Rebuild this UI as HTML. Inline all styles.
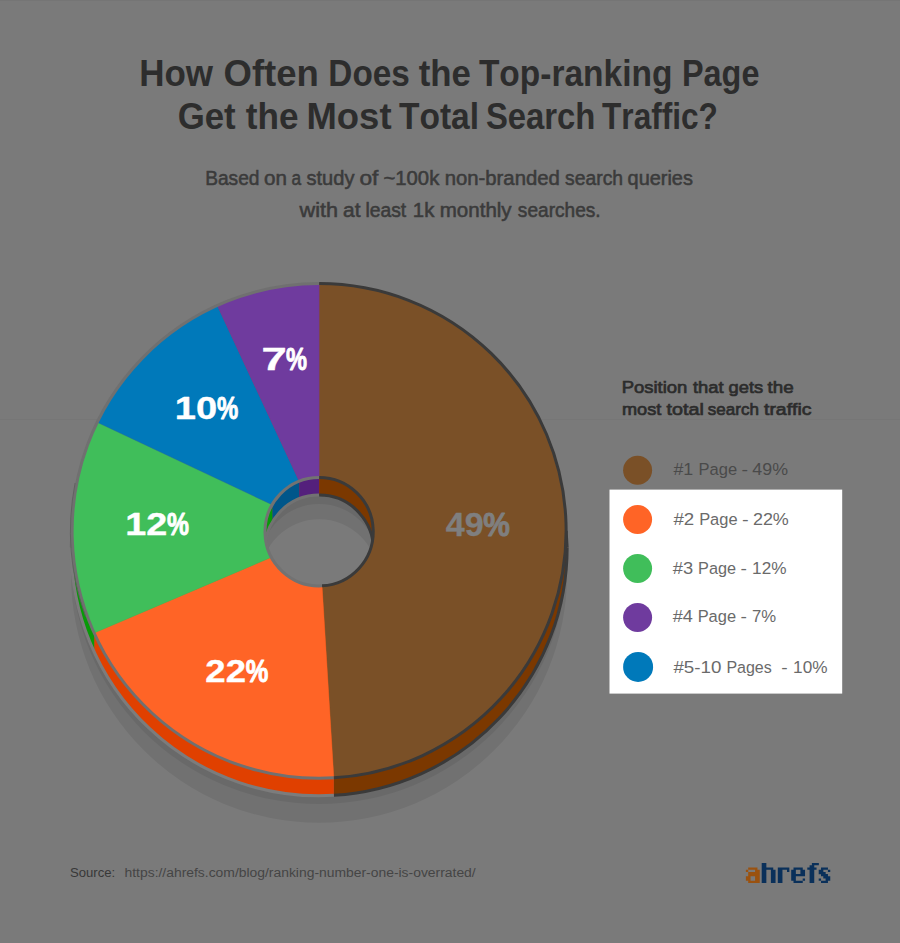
<!DOCTYPE html>
<html><head><meta charset="utf-8"><title>chart</title>
<style>
html,body{margin:0;padding:0;background:#7a7a7a;}
body{width:900px;height:943px;overflow:hidden;font-family:"Liberation Sans",sans-serif;}
svg{display:block}
text{font-family:"Liberation Sans",sans-serif;font-kerning:none;}
</style></head><body>
<svg width="900" height="943" viewBox="0 0 900 943">
<rect width="900" height="943" fill="#7a7a7a"/>
<rect y="0" width="900" height="1" fill="#757575"/>
<rect y="419" width="900" height="1" fill="#767676"/>

<path d="M71.00,574.70a248.0,248.0 0 1 0 496.0,0a248.0,248.0 0 1 0 -496.0,0ZM260.00,578.30a59.0,59.0 0 1 0 118.0,0a59.0,59.0 0 1 0 -118.0,0Z" fill="#000" fill-opacity="0.07" fill-rule="evenodd"/>
<path d="M71.00,556.00a248.0,248.0 0 1 0 496.0,0a248.0,248.0 0 1 0 -496.0,0ZM260.00,563.00a59.0,59.0 0 1 0 118.0,0a59.0,59.0 0 1 0 -118.0,0Z" fill="#000" fill-opacity="0.065" fill-rule="evenodd"/>
<g transform="translate(319.15,0) scale(0.9984,1) translate(-319.0,0)">
<defs>
<clipPath id="wall"><circle cx="319.0" cy="530.9" r="247.70000000000002"/><circle cx="319.0" cy="547.4" r="248.70000000000002"/><path d="M71.29999999999998,530.9L566.7,530.9L567.7,547.4L70.29999999999998,547.4Z"/></clipPath>
<clipPath id="hole"><circle cx="319.0" cy="531.7" r="54.5"/></clipPath>
<clipPath id="floor"><circle cx="319.0" cy="549.3000000000001" r="54.2"/></clipPath>
</defs>
<g clip-path="url(#wall)">
<rect x="333.72" y="282.0" width="236.18" height="518.3" fill="#7b3800"/>
<rect x="93.66" y="282.0" width="240.05" height="518.3" fill="#e04000"/>
<rect x="68.1" y="282.0" width="25.56" height="518.3" fill="#089a08"/>
</g>
<path d="M567.40,547.40A248.4,248.4 0 0 1 333.77,795.36" fill="none" stroke="#3a3a3a" stroke-width="3.0"/>
<path d="M333.77,795.36A248.4,248.4 0 0 1 70.60,547.40" fill="none" stroke="#7c7c7c" stroke-width="3.0"/>
<path d="M566.4,530.9L567.4,547.4" stroke="#3a3a3a" stroke-width="3.0"/>
<path d="M71.6,530.9L70.6,547.4" stroke="#707070" stroke-width="3.0"/>
<g clip-path="url(#hole)">
<rect x="319.0" y="475.50000000000006" width="56.2" height="112.4" fill="#7b3800"/>
<rect x="299.00" y="475.50000000000006" width="20.00" height="112.4" fill="#54207c"/>
<rect x="271.98" y="475.50000000000006" width="27.02" height="112.4" fill="#00568a"/>
<rect x="262.8" y="475.50000000000006" width="9.18" height="112.4" fill="#089a08"/>
<g clip-path="url(#floor)">
<rect x="262.8" y="475.50000000000006" width="112.4" height="130.0" fill="#7a7a7a"/>
<path d="M71.00,574.70a248.0,248.0 0 1 0 496.0,0a248.0,248.0 0 1 0 -496.0,0ZM260.00,578.30a59.0,59.0 0 1 0 118.0,0a59.0,59.0 0 1 0 -118.0,0Z" fill="#000" fill-opacity="0.07" fill-rule="evenodd"/>
<path d="M71.00,556.00a248.0,248.0 0 1 0 496.0,0a248.0,248.0 0 1 0 -496.0,0ZM260.00,563.00a59.0,59.0 0 1 0 118.0,0a59.0,59.0 0 1 0 -118.0,0Z" fill="#000" fill-opacity="0.065" fill-rule="evenodd"/>
</g>
<path d="M265.01,554.02A54.2,54.2 0 0 1 319.00,495.10" fill="none" stroke="#727272" stroke-width="3.0"/>
<path d="M319.00,495.10A54.2,54.2 0 0 1 372.99,554.02" fill="none" stroke="#3a3a3a" stroke-width="3.0"/>
</g>
<path d="M319.00,283.50A247.4,247.4 0 0 1 333.72,777.86L321.91,585.82A54.2,54.2 0 0 0 319.00,477.50Z" fill="#7a5027" stroke="#7a5027" stroke-width="0.4"/>
<path d="M333.72,777.86A247.4,247.4 0 0 1 93.66,633.02L271.22,557.28A54.2,54.2 0 0 0 321.91,585.82Z" fill="#ff6426" stroke="#ff6426" stroke-width="0.4"/>
<path d="M93.66,633.02A247.4,247.4 0 0 1 96.71,422.29L271.98,504.74A54.2,54.2 0 0 0 271.22,557.28Z" fill="#40be5a" stroke="#40be5a" stroke-width="0.4"/>
<path d="M96.71,422.29A247.4,247.4 0 0 1 216.96,305.53L299.00,481.32A54.2,54.2 0 0 0 271.98,504.74Z" fill="#0079ba" stroke="#0079ba" stroke-width="0.4"/>
<path d="M216.96,305.53A247.4,247.4 0 0 1 319.00,283.50L319.00,477.50A54.2,54.2 0 0 0 299.00,481.32Z" fill="#6f3b9e" stroke="#6f3b9e" stroke-width="0.4"/>
<path d="M333.72,777.86A247.4,247.4 0 1 1 318.96,283.50" fill="none" stroke="#707070" stroke-width="3.0"/>
<path d="M319.00,283.50A247.4,247.4 0 0 1 333.72,777.86" fill="none" stroke="#3a3a3a" stroke-width="3.0"/>
<path d="M321.91,585.82A54.2,54.2 0 1 1 318.99,477.50" fill="none" stroke="#727272" stroke-width="3.0"/>
<path d="M319.00,477.50A54.2,54.2 0 0 1 321.91,585.82" fill="none" stroke="#3a3a3a" stroke-width="3.0"/>
<path d="M84.92,616.10A249.1,249.1 0 0 1 74.48,483.37" fill="none" stroke="#5f5f5f" stroke-width="0.9" stroke-linecap="round"/>
</g>
<text x="139.16" y="86.1" font-size="36" font-weight="bold" fill="#2d2d2d" textLength="73.87" lengthAdjust="spacingAndGlyphs" >How</text>
<text x="223.6" y="86.1" font-size="36" font-weight="bold" fill="#2d2d2d" textLength="95.26" lengthAdjust="spacingAndGlyphs" >Often</text>
<text x="328.37" y="86.1" font-size="36" font-weight="bold" fill="#2d2d2d" textLength="81.5" lengthAdjust="spacingAndGlyphs" >Does</text>
<text x="418.78" y="86.1" font-size="36" font-weight="bold" fill="#2d2d2d" textLength="52.21" lengthAdjust="spacingAndGlyphs" >the</text>
<text x="478.92" y="86.1" font-size="36" font-weight="bold" fill="#2d2d2d" textLength="193.42" lengthAdjust="spacingAndGlyphs" >Top-ranking</text>
<text x="682.03" y="86.1" font-size="36" font-weight="bold" fill="#2d2d2d" textLength="77.37" lengthAdjust="spacingAndGlyphs" >Page</text>
<text x="177.67" y="128.8" font-size="36" font-weight="bold" fill="#2d2d2d" textLength="58.05" lengthAdjust="spacingAndGlyphs" >Get</text>
<text x="245.87" y="128.8" font-size="36" font-weight="bold" fill="#2d2d2d" textLength="52.73" lengthAdjust="spacingAndGlyphs" >the</text>
<text x="306.46" y="128.8" font-size="36" font-weight="bold" fill="#2d2d2d" textLength="85.08" lengthAdjust="spacingAndGlyphs" >Most</text>
<text x="398.92" y="128.8" font-size="36" font-weight="bold" fill="#2d2d2d" textLength="80.15" lengthAdjust="spacingAndGlyphs" >Total</text>
<text x="485.95" y="128.8" font-size="36" font-weight="bold" fill="#2d2d2d" textLength="109.48" lengthAdjust="spacingAndGlyphs" >Search</text>
<text x="602.05" y="128.8" font-size="36" font-weight="bold" fill="#2d2d2d" textLength="115.88" lengthAdjust="spacingAndGlyphs" >Traffic?</text>
<text x="205.13" y="185.3" font-size="19.6" font-weight="normal" fill="#3b3b3b" textLength="54.31" lengthAdjust="spacingAndGlyphs" stroke="#3b3b3b" stroke-width="0.55">Based</text>
<text x="264.04" y="185.3" font-size="19.6" font-weight="normal" fill="#3b3b3b" textLength="22.9" lengthAdjust="spacingAndGlyphs" stroke="#3b3b3b" stroke-width="0.55">on</text>
<text x="291.46" y="185.3" font-size="19.6" font-weight="normal" fill="#3b3b3b" textLength="9.64" lengthAdjust="spacingAndGlyphs" stroke="#3b3b3b" stroke-width="0.55">a</text>
<text x="306.54" y="185.3" font-size="19.6" font-weight="normal" fill="#3b3b3b" textLength="47.9" lengthAdjust="spacingAndGlyphs" stroke="#3b3b3b" stroke-width="0.55">study</text>
<text x="359.45" y="185.3" font-size="19.6" font-weight="normal" fill="#3b3b3b" textLength="18.92" lengthAdjust="spacingAndGlyphs" stroke="#3b3b3b" stroke-width="0.55">of</text>
<text x="383.49" y="185.3" font-size="19.6" font-weight="normal" fill="#3b3b3b" textLength="55.78" lengthAdjust="spacingAndGlyphs" stroke="#3b3b3b" stroke-width="0.55">~100k</text>
<text x="444.65" y="185.3" font-size="19.6" font-weight="normal" fill="#3b3b3b" textLength="115.16" lengthAdjust="spacingAndGlyphs" stroke="#3b3b3b" stroke-width="0.55">non-branded</text>
<text x="565.06" y="185.3" font-size="19.6" font-weight="normal" fill="#3b3b3b" textLength="57.99" lengthAdjust="spacingAndGlyphs" stroke="#3b3b3b" stroke-width="0.55">search</text>
<text x="627.56" y="185.3" font-size="19.6" font-weight="normal" fill="#3b3b3b" textLength="65.36" lengthAdjust="spacingAndGlyphs" stroke="#3b3b3b" stroke-width="0.55">queries</text>
<text x="299.63" y="217.1" font-size="19.6" font-weight="normal" fill="#3b3b3b" textLength="38.47" lengthAdjust="spacingAndGlyphs" stroke="#3b3b3b" stroke-width="0.55">with</text>
<text x="343.11" y="217.1" font-size="19.6" font-weight="normal" fill="#3b3b3b" textLength="17.44" lengthAdjust="spacingAndGlyphs" stroke="#3b3b3b" stroke-width="0.55">at</text>
<text x="365.4" y="217.1" font-size="19.6" font-weight="normal" fill="#3b3b3b" textLength="40.74" lengthAdjust="spacingAndGlyphs" stroke="#3b3b3b" stroke-width="0.55">least</text>
<text x="412.85" y="217.1" font-size="19.6" font-weight="normal" fill="#3b3b3b" textLength="21.52" lengthAdjust="spacingAndGlyphs" stroke="#3b3b3b" stroke-width="0.55">1k</text>
<text x="439.74" y="217.1" font-size="19.6" font-weight="normal" fill="#3b3b3b" textLength="71.9" lengthAdjust="spacingAndGlyphs" stroke="#3b3b3b" stroke-width="0.55">monthly</text>
<text x="517.87" y="217.1" font-size="19.6" font-weight="normal" fill="#3b3b3b" textLength="82.77" lengthAdjust="spacingAndGlyphs" stroke="#3b3b3b" stroke-width="0.55">searches.</text>
<text x="445.78" y="535.7" font-size="32.3" font-weight="bold" fill="#7f7f7f" textLength="37.88" lengthAdjust="spacingAndGlyphs" stroke="#7f7f7f" stroke-width="0.35" stroke-linejoin="round">49</text>
<text x="483.25" y="535.7" font-size="32.3" font-weight="bold" fill="#7f7f7f" textLength="26.64" lengthAdjust="spacingAndGlyphs" stroke="#7f7f7f" stroke-width="0.9" stroke-linejoin="round">%</text>
<text x="261.55" y="369.9" font-size="32" font-weight="bold" fill="#ffffff" textLength="25.25" lengthAdjust="spacingAndGlyphs" stroke="#fff" stroke-width="0.35" stroke-linejoin="round">7</text>
<text x="285.91" y="369.9" font-size="32" font-weight="bold" fill="#ffffff" textLength="21.01" lengthAdjust="spacingAndGlyphs" stroke="#fff" stroke-width="0.9" stroke-linejoin="round">%</text>
<text x="174.8" y="419.2" font-size="32" font-weight="bold" fill="#ffffff" textLength="42.36" lengthAdjust="spacingAndGlyphs" stroke="#fff" stroke-width="0.35" stroke-linejoin="round">10</text>
<text x="217.01" y="419.2" font-size="32" font-weight="bold" fill="#ffffff" textLength="21.22" lengthAdjust="spacingAndGlyphs" stroke="#fff" stroke-width="0.9" stroke-linejoin="round">%</text>
<text x="125.22" y="535.2" font-size="32" font-weight="bold" fill="#ffffff" textLength="41.99" lengthAdjust="spacingAndGlyphs" stroke="#fff" stroke-width="0.35" stroke-linejoin="round">12</text>
<text x="166.88" y="535.2" font-size="32" font-weight="bold" fill="#ffffff" textLength="21.97" lengthAdjust="spacingAndGlyphs" stroke="#fff" stroke-width="0.9" stroke-linejoin="round">%</text>
<text x="205.33" y="682.4" font-size="32" font-weight="bold" fill="#ffffff" textLength="40.63" lengthAdjust="spacingAndGlyphs" stroke="#fff" stroke-width="0.35" stroke-linejoin="round">22</text>
<text x="245.77" y="682.4" font-size="32" font-weight="bold" fill="#ffffff" textLength="22.6" lengthAdjust="spacingAndGlyphs" stroke="#fff" stroke-width="0.9" stroke-linejoin="round">%</text>
<text x="621.68" y="393.3" font-size="17.2" font-weight="normal" fill="#2c2c2c" textLength="65.71" lengthAdjust="spacingAndGlyphs" stroke="#2c2c2c" stroke-width="0.7">Position</text>
<text x="692.92" y="393.3" font-size="17.2" font-weight="normal" fill="#2c2c2c" textLength="30.71" lengthAdjust="spacingAndGlyphs" stroke="#2c2c2c" stroke-width="0.7">that</text>
<text x="728.53" y="393.3" font-size="17.2" font-weight="normal" fill="#2c2c2c" textLength="34.63" lengthAdjust="spacingAndGlyphs" stroke="#2c2c2c" stroke-width="0.7">gets</text>
<text x="767.52" y="393.3" font-size="17.2" font-weight="normal" fill="#2c2c2c" textLength="26.12" lengthAdjust="spacingAndGlyphs" stroke="#2c2c2c" stroke-width="0.7">the</text>
<text x="621.99" y="414.8" font-size="17.2" font-weight="normal" fill="#2c2c2c" textLength="39.34" lengthAdjust="spacingAndGlyphs" stroke="#2c2c2c" stroke-width="0.7">most</text>
<text x="666.5" y="414.8" font-size="17.2" font-weight="normal" fill="#2c2c2c" textLength="37.32" lengthAdjust="spacingAndGlyphs" stroke="#2c2c2c" stroke-width="0.7">total</text>
<text x="707.83" y="414.8" font-size="17.2" font-weight="normal" fill="#2c2c2c" textLength="51.08" lengthAdjust="spacingAndGlyphs" stroke="#2c2c2c" stroke-width="0.7">search</text>
<text x="764.01" y="414.8" font-size="17.2" font-weight="normal" fill="#2c2c2c" textLength="47.51" lengthAdjust="spacingAndGlyphs" stroke="#2c2c2c" stroke-width="0.7">traffic</text>
<rect x="609.5" y="489.6" width="232.7" height="204" fill="#ffffff"/>
<circle cx="637.6" cy="470.3" r="14.5" fill="#7a5027"/>
<circle cx="637.6" cy="519.4" r="14.5" fill="#ff6426"/>
<circle cx="637.6" cy="568.6" r="14.5" fill="#40be5a"/>
<circle cx="637.6" cy="617.5" r="14.5" fill="#6f3b9e"/>
<circle cx="638.1" cy="666.9" r="15" fill="#0079ba"/>
<text x="673.42" y="475.4" font-size="17.2" font-weight="normal" fill="#4a4a4a" textLength="19.85" lengthAdjust="spacingAndGlyphs" >#1</text>
<text x="698.54" y="475.4" font-size="17.2" font-weight="normal" fill="#4a4a4a" textLength="38.59" lengthAdjust="spacingAndGlyphs" >Page</text>
<text x="741.53" y="475.4" font-size="17.2" font-weight="normal" fill="#4a4a4a" textLength="6.55" lengthAdjust="spacingAndGlyphs" >-</text>
<text x="752.39" y="475.4" font-size="17.2" font-weight="normal" fill="#4a4a4a" textLength="35.64" lengthAdjust="spacingAndGlyphs" >49%</text>
<text x="673.42" y="524.7" font-size="17.2" font-weight="normal" fill="#6a6a6a" textLength="20.82" lengthAdjust="spacingAndGlyphs" >#2</text>
<text x="699.15" y="524.7" font-size="17.2" font-weight="normal" fill="#6a6a6a" textLength="38.38" lengthAdjust="spacingAndGlyphs" >Page</text>
<text x="741.91" y="524.7" font-size="17.2" font-weight="normal" fill="#6a6a6a" textLength="6.68" lengthAdjust="spacingAndGlyphs" >-</text>
<text x="752.9" y="524.7" font-size="17.2" font-weight="normal" fill="#6a6a6a" textLength="35.94" lengthAdjust="spacingAndGlyphs" >22%</text>
<text x="672.82" y="573.8" font-size="17.2" font-weight="normal" fill="#6a6a6a" textLength="20.39" lengthAdjust="spacingAndGlyphs" >#3</text>
<text x="698.07" y="573.8" font-size="17.2" font-weight="normal" fill="#6a6a6a" textLength="37.96" lengthAdjust="spacingAndGlyphs" >Page</text>
<text x="740.64" y="573.8" font-size="17.2" font-weight="normal" fill="#6a6a6a" textLength="6.41" lengthAdjust="spacingAndGlyphs" >-</text>
<text x="752.09" y="573.8" font-size="17.2" font-weight="normal" fill="#6a6a6a" textLength="34.42" lengthAdjust="spacingAndGlyphs" >12%</text>
<text x="672.82" y="622.4" font-size="17.2" font-weight="normal" fill="#6a6a6a" textLength="20.11" lengthAdjust="spacingAndGlyphs" >#4</text>
<text x="697.65" y="622.4" font-size="17.2" font-weight="normal" fill="#6a6a6a" textLength="38.38" lengthAdjust="spacingAndGlyphs" >Page</text>
<text x="740.64" y="622.4" font-size="17.2" font-weight="normal" fill="#6a6a6a" textLength="6.41" lengthAdjust="spacingAndGlyphs" >-</text>
<text x="751.94" y="622.4" font-size="17.2" font-weight="normal" fill="#6a6a6a" textLength="24.15" lengthAdjust="spacingAndGlyphs" >7%</text>
<text x="673.42" y="673.1" font-size="17.2" font-weight="normal" fill="#6a6a6a" textLength="48.02" lengthAdjust="spacingAndGlyphs" >#5-10</text>
<text x="726.39" y="673.1" font-size="17.2" font-weight="normal" fill="#6a6a6a" textLength="45.39" lengthAdjust="spacingAndGlyphs" >Pages</text>
<text x="781.24" y="673.1" font-size="17.2" font-weight="normal" fill="#6a6a6a" textLength="6.41" lengthAdjust="spacingAndGlyphs" >-</text>
<text x="793.09" y="673.1" font-size="17.2" font-weight="normal" fill="#6a6a6a" textLength="34.42" lengthAdjust="spacingAndGlyphs" >10%</text>
<text x="69.9" y="877.2" font-size="13.7" font-weight="normal" fill="#383838" textLength="45.3" lengthAdjust="spacingAndGlyphs" >Source:</text>
<text x="124.54" y="877.2" font-size="13.7" font-weight="normal" fill="#454545" textLength="351.16" lengthAdjust="spacingAndGlyphs" >https://ahrefs.com/blog/ranking-number-one-is-overrated/</text>
<g>
<path d="M748.20,867.50h2.3499999999999996v2.25h-2.3499999999999996zM750.50,867.50h2.3499999999999996v2.25h-2.3499999999999996zM752.80,867.50h2.3499999999999996v2.25h-2.3499999999999996zM755.10,867.50h2.3499999999999996v2.25h-2.3499999999999996zM745.90,869.70h2.3499999999999996v2.25h-2.3499999999999996zM755.10,869.70h2.3499999999999996v2.25h-2.3499999999999996zM757.40,869.70h2.3499999999999996v2.25h-2.3499999999999996zM748.20,871.90h2.3499999999999996v2.25h-2.3499999999999996zM750.50,871.90h2.3499999999999996v2.25h-2.3499999999999996zM752.80,871.90h2.3499999999999996v2.25h-2.3499999999999996zM755.10,871.90h2.3499999999999996v2.25h-2.3499999999999996zM757.40,871.90h2.3499999999999996v2.25h-2.3499999999999996zM748.20,874.10h2.3499999999999996v2.25h-2.3499999999999996zM750.50,874.10h2.3499999999999996v2.25h-2.3499999999999996zM752.80,874.10h2.3499999999999996v2.25h-2.3499999999999996zM755.10,874.10h2.3499999999999996v2.25h-2.3499999999999996zM757.40,874.10h2.3499999999999996v2.25h-2.3499999999999996zM745.90,876.30h2.3499999999999996v2.25h-2.3499999999999996zM748.20,876.30h2.3499999999999996v2.25h-2.3499999999999996zM755.10,876.30h2.3499999999999996v2.25h-2.3499999999999996zM757.40,876.30h2.3499999999999996v2.25h-2.3499999999999996zM745.90,878.50h2.3499999999999996v2.25h-2.3499999999999996zM748.20,878.50h2.3499999999999996v2.25h-2.3499999999999996zM755.10,878.50h2.3499999999999996v2.25h-2.3499999999999996zM757.40,878.50h2.3499999999999996v2.25h-2.3499999999999996zM748.20,880.70h2.3499999999999996v2.25h-2.3499999999999996zM750.50,880.70h2.3499999999999996v2.25h-2.3499999999999996zM752.80,880.70h2.3499999999999996v2.25h-2.3499999999999996zM755.10,880.70h2.3499999999999996v2.25h-2.3499999999999996zM757.40,880.70h2.3499999999999996v2.25h-2.3499999999999996z" fill="#9a5210"/>
<path d="M761.70,863.10h2.3499999999999996v2.25h-2.3499999999999996zM764.00,863.10h2.3499999999999996v2.25h-2.3499999999999996zM761.70,865.30h2.3499999999999996v2.25h-2.3499999999999996zM764.00,865.30h2.3499999999999996v2.25h-2.3499999999999996zM761.70,867.50h2.3499999999999996v2.25h-2.3499999999999996zM764.00,867.50h2.3499999999999996v2.25h-2.3499999999999996zM766.30,867.50h2.3499999999999996v2.25h-2.3499999999999996zM768.60,867.50h2.3499999999999996v2.25h-2.3499999999999996zM770.90,867.50h2.3499999999999996v2.25h-2.3499999999999996zM761.70,869.70h2.3499999999999996v2.25h-2.3499999999999996zM764.00,869.70h2.3499999999999996v2.25h-2.3499999999999996zM770.90,869.70h2.3499999999999996v2.25h-2.3499999999999996zM773.20,869.70h2.3499999999999996v2.25h-2.3499999999999996zM761.70,871.90h2.3499999999999996v2.25h-2.3499999999999996zM764.00,871.90h2.3499999999999996v2.25h-2.3499999999999996zM770.90,871.90h2.3499999999999996v2.25h-2.3499999999999996zM773.20,871.90h2.3499999999999996v2.25h-2.3499999999999996zM761.70,874.10h2.3499999999999996v2.25h-2.3499999999999996zM764.00,874.10h2.3499999999999996v2.25h-2.3499999999999996zM770.90,874.10h2.3499999999999996v2.25h-2.3499999999999996zM773.20,874.10h2.3499999999999996v2.25h-2.3499999999999996zM761.70,876.30h2.3499999999999996v2.25h-2.3499999999999996zM764.00,876.30h2.3499999999999996v2.25h-2.3499999999999996zM770.90,876.30h2.3499999999999996v2.25h-2.3499999999999996zM773.20,876.30h2.3499999999999996v2.25h-2.3499999999999996zM761.70,878.50h2.3499999999999996v2.25h-2.3499999999999996zM764.00,878.50h2.3499999999999996v2.25h-2.3499999999999996zM770.90,878.50h2.3499999999999996v2.25h-2.3499999999999996zM773.20,878.50h2.3499999999999996v2.25h-2.3499999999999996zM761.70,880.70h2.3499999999999996v2.25h-2.3499999999999996zM764.00,880.70h2.3499999999999996v2.25h-2.3499999999999996zM770.90,880.70h2.3499999999999996v2.25h-2.3499999999999996zM773.20,880.70h2.3499999999999996v2.25h-2.3499999999999996z" fill="#0a305a"/>
<path d="M777.80,867.50h2.3499999999999996v2.25h-2.3499999999999996zM780.10,867.50h2.3499999999999996v2.25h-2.3499999999999996zM782.40,867.50h2.3499999999999996v2.25h-2.3499999999999996zM784.70,867.50h2.3499999999999996v2.25h-2.3499999999999996zM787.00,867.50h2.3499999999999996v2.25h-2.3499999999999996zM777.80,869.70h2.3499999999999996v2.25h-2.3499999999999996zM780.10,869.70h2.3499999999999996v2.25h-2.3499999999999996zM787.00,869.70h2.3499999999999996v2.25h-2.3499999999999996zM777.80,871.90h2.3499999999999996v2.25h-2.3499999999999996zM780.10,871.90h2.3499999999999996v2.25h-2.3499999999999996zM777.80,874.10h2.3499999999999996v2.25h-2.3499999999999996zM780.10,874.10h2.3499999999999996v2.25h-2.3499999999999996zM777.80,876.30h2.3499999999999996v2.25h-2.3499999999999996zM780.10,876.30h2.3499999999999996v2.25h-2.3499999999999996zM777.80,878.50h2.3499999999999996v2.25h-2.3499999999999996zM780.10,878.50h2.3499999999999996v2.25h-2.3499999999999996zM777.80,880.70h2.3499999999999996v2.25h-2.3499999999999996zM780.10,880.70h2.3499999999999996v2.25h-2.3499999999999996z" fill="#0a305a"/>
<path d="M793.50,867.50h2.3499999999999996v2.25h-2.3499999999999996zM795.80,867.50h2.3499999999999996v2.25h-2.3499999999999996zM798.10,867.50h2.3499999999999996v2.25h-2.3499999999999996zM800.40,867.50h2.3499999999999996v2.25h-2.3499999999999996zM791.20,869.70h2.3499999999999996v2.25h-2.3499999999999996zM793.50,869.70h2.3499999999999996v2.25h-2.3499999999999996zM800.40,869.70h2.3499999999999996v2.25h-2.3499999999999996zM802.70,869.70h2.3499999999999996v2.25h-2.3499999999999996zM791.20,871.90h2.3499999999999996v2.25h-2.3499999999999996zM793.50,871.90h2.3499999999999996v2.25h-2.3499999999999996zM800.40,871.90h2.3499999999999996v2.25h-2.3499999999999996zM802.70,871.90h2.3499999999999996v2.25h-2.3499999999999996zM791.20,874.10h2.3499999999999996v2.25h-2.3499999999999996zM793.50,874.10h2.3499999999999996v2.25h-2.3499999999999996zM795.80,874.10h2.3499999999999996v2.25h-2.3499999999999996zM798.10,874.10h2.3499999999999996v2.25h-2.3499999999999996zM800.40,874.10h2.3499999999999996v2.25h-2.3499999999999996zM802.70,874.10h2.3499999999999996v2.25h-2.3499999999999996zM791.20,876.30h2.3499999999999996v2.25h-2.3499999999999996zM793.50,876.30h2.3499999999999996v2.25h-2.3499999999999996zM791.20,878.50h2.3499999999999996v2.25h-2.3499999999999996zM793.50,878.50h2.3499999999999996v2.25h-2.3499999999999996zM802.70,878.50h2.3499999999999996v2.25h-2.3499999999999996zM793.50,880.70h2.3499999999999996v2.25h-2.3499999999999996zM795.80,880.70h2.3499999999999996v2.25h-2.3499999999999996zM798.10,880.70h2.3499999999999996v2.25h-2.3499999999999996zM800.40,880.70h2.3499999999999996v2.25h-2.3499999999999996z" fill="#0a305a"/>
<path d="M811.90,863.10h2.3499999999999996v2.25h-2.3499999999999996zM814.20,863.10h2.3499999999999996v2.25h-2.3499999999999996zM816.50,863.10h2.3499999999999996v2.25h-2.3499999999999996zM809.60,865.30h2.3499999999999996v2.25h-2.3499999999999996zM811.90,865.30h2.3499999999999996v2.25h-2.3499999999999996zM807.30,867.50h2.3499999999999996v2.25h-2.3499999999999996zM809.60,867.50h2.3499999999999996v2.25h-2.3499999999999996zM811.90,867.50h2.3499999999999996v2.25h-2.3499999999999996zM814.20,867.50h2.3499999999999996v2.25h-2.3499999999999996zM809.60,869.70h2.3499999999999996v2.25h-2.3499999999999996zM811.90,869.70h2.3499999999999996v2.25h-2.3499999999999996zM809.60,871.90h2.3499999999999996v2.25h-2.3499999999999996zM811.90,871.90h2.3499999999999996v2.25h-2.3499999999999996zM809.60,874.10h2.3499999999999996v2.25h-2.3499999999999996zM811.90,874.10h2.3499999999999996v2.25h-2.3499999999999996zM809.60,876.30h2.3499999999999996v2.25h-2.3499999999999996zM811.90,876.30h2.3499999999999996v2.25h-2.3499999999999996zM809.60,878.50h2.3499999999999996v2.25h-2.3499999999999996zM811.90,878.50h2.3499999999999996v2.25h-2.3499999999999996zM809.60,880.70h2.3499999999999996v2.25h-2.3499999999999996zM811.90,880.70h2.3499999999999996v2.25h-2.3499999999999996z" fill="#0a305a"/>
<path d="M821.00,867.50h2.3499999999999996v2.25h-2.3499999999999996zM823.30,867.50h2.3499999999999996v2.25h-2.3499999999999996zM825.60,867.50h2.3499999999999996v2.25h-2.3499999999999996zM818.70,869.70h2.3499999999999996v2.25h-2.3499999999999996zM821.00,869.70h2.3499999999999996v2.25h-2.3499999999999996zM827.90,869.70h2.3499999999999996v2.25h-2.3499999999999996zM818.70,871.90h2.3499999999999996v2.25h-2.3499999999999996zM821.00,871.90h2.3499999999999996v2.25h-2.3499999999999996zM823.30,871.90h2.3499999999999996v2.25h-2.3499999999999996zM821.00,874.10h2.3499999999999996v2.25h-2.3499999999999996zM823.30,874.10h2.3499999999999996v2.25h-2.3499999999999996zM825.60,874.10h2.3499999999999996v2.25h-2.3499999999999996zM823.30,876.30h2.3499999999999996v2.25h-2.3499999999999996zM825.60,876.30h2.3499999999999996v2.25h-2.3499999999999996zM827.90,876.30h2.3499999999999996v2.25h-2.3499999999999996zM818.70,878.50h2.3499999999999996v2.25h-2.3499999999999996zM825.60,878.50h2.3499999999999996v2.25h-2.3499999999999996zM827.90,878.50h2.3499999999999996v2.25h-2.3499999999999996zM821.00,880.70h2.3499999999999996v2.25h-2.3499999999999996zM823.30,880.70h2.3499999999999996v2.25h-2.3499999999999996zM825.60,880.70h2.3499999999999996v2.25h-2.3499999999999996z" fill="#0a305a"/>
</g>
</svg></body></html>
